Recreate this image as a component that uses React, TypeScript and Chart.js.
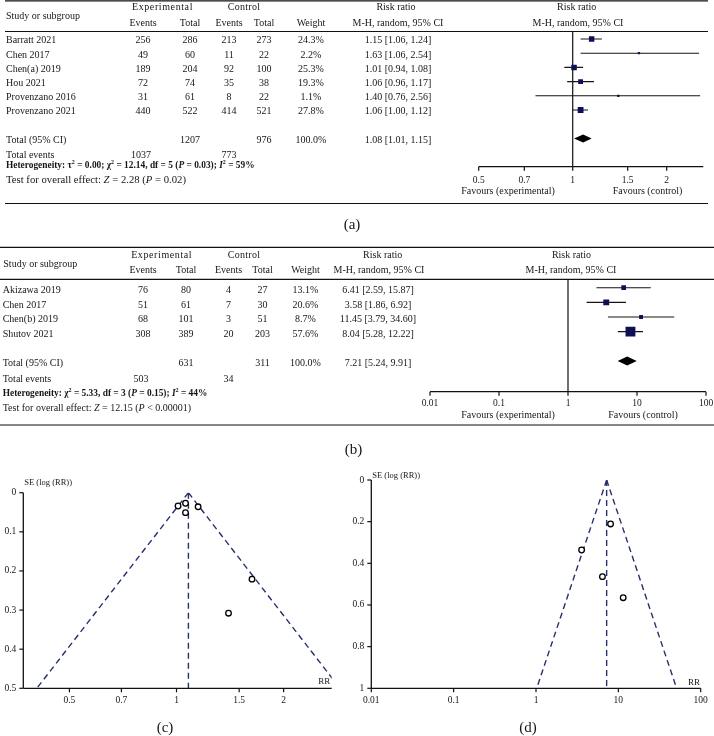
import React, { useEffect, useRef } from 'react';
import { Chart, registerables } from 'chart.js';

Chart.register(...registerables);

const SERIF = '"Liberation Serif", "Times New Roman", Times, serif';
const INK = '#161616';
const NAVY = '#0f0f55';
const DASH = '#27306f';

type Run = { t: string; b?: boolean; i?: boolean; sup?: boolean };

// ---------------- Panel (a) data ----------------
const studiesA = ['Barratt 2021', 'Chen 2017', 'Chen(a) 2019', 'Hou 2021', 'Provenzano 2016', 'Provenzano 2021'];
const expEventsA = [256, 49, 189, 72, 31, 440];
const expTotalA = [286, 60, 204, 74, 61, 522];
const ctrlEventsA = [213, 11, 92, 35, 8, 414];
const ctrlTotalA = [273, 22, 100, 38, 22, 521];
const weightA = [24.3, 2.2, 25.3, 19.3, 1.1, 27.8];
const rrA = [1.15, 1.63, 1.01, 1.06, 1.4, 1.06];
const lowA = [1.06, 1.06, 0.94, 0.96, 0.76, 1.0];
const highA = [1.24, 2.54, 1.08, 1.17, 2.56, 1.12];
const pooledA = [1.08, 1.01, 1.15]; // estimate, lower, upper
const sumsA = [1207, 976, 1037, 773]; // exp total, ctrl total, exp events, ctrl events
const forestTicksA = [0.5, 0.7, 1, 1.5, 2];
const hetA: Run[] = [
  { t: 'Heterogeneity: τ', b: true }, { t: '2', b: true, sup: true }, { t: ' = 0.00; χ', b: true },
  { t: '2', b: true, sup: true }, { t: ' = 12.14, df = 5 (', b: true }, { t: 'P', b: true, i: true },
  { t: ' = 0.03); ', b: true }, { t: 'I', b: true, i: true }, { t: '2', b: true, sup: true }, { t: ' = 59%', b: true },
];
const testA: Run[] = [
  { t: 'Test for overall effect: ' }, { t: 'Z', i: true }, { t: ' = 2.28 (' }, { t: 'P', i: true }, { t: ' = 0.02)' },
];

// ---------------- Panel (b) data ----------------
const studiesB = ['Akizawa 2019', 'Chen 2017', 'Chen(b) 2019', 'Shutov 2021'];
const expEventsB = [76, 51, 68, 308];
const expTotalB = [80, 61, 101, 389];
const ctrlEventsB = [4, 7, 3, 20];
const ctrlTotalB = [27, 30, 51, 203];
const weightB = [13.1, 20.6, 8.7, 57.6];
const rrB = [6.41, 3.58, 11.45, 8.04];
const lowB = [2.59, 1.86, 3.79, 5.28];
const highB = [15.87, 6.92, 34.6, 12.22];
const pooledB = [7.21, 5.24, 9.91];
const sumsB = [631, 311, 503, 34];
const forestTicksB = [0.01, 0.1, 1, 10, 100];
const hetB: Run[] = [
  { t: 'Heterogeneity: χ', b: true }, { t: '2', b: true, sup: true }, { t: ' = 5.33, df = 3 (', b: true },
  { t: 'P', b: true, i: true }, { t: ' = 0.15); ', b: true }, { t: 'I', b: true, i: true },
  { t: '2', b: true, sup: true }, { t: ' = 44%', b: true },
];
const testB: Run[] = [
  { t: 'Test for overall effect: ' }, { t: 'Z', i: true }, { t: ' = 12.15 (' }, { t: 'P', i: true }, { t: ' < 0.00001)' },
];

// ---------------- Funnel (c) data ----------------
const funnelRrC = [1.15, 1.63, 1.01, 1.06, 1.4, 1.06];
const funnelSeC = [0.036, 0.221, 0.034, 0.051, 0.308, 0.027];
const limitSeC = [0, 0.5];
const limitLowC = [1.08, 0.405];
const limitHighC = [1.08, 2.88];
const pooledC = 1.08;
const xTicksC = [0.5, 0.7, 1, 1.5, 2];
const yTicksC = [0, 0.1, 0.2, 0.3, 0.4, 0.5];

// ---------------- Funnel (d) data ----------------
const funnelRrD = [6.41, 3.58, 11.45, 8.04];
const funnelSeD = [0.464, 0.336, 0.565, 0.211];
const limitSeD = [0, 1];
const limitLowD = [7.21, 1.02];
const limitHighD = [7.21, 51];
const pooledD = 7.21;
const xTicksD = [0.01, 0.1, 1, 10, 100];
const yTicksD = [0, 0.2, 0.4, 0.6, 0.8, 1];

// ---------------- helpers ----------------
function fnt(size: number, bold = false, italic = false) {
  return `${italic ? 'italic ' : ''}${bold ? 'bold ' : ''}${size}px ${SERIF}`;
}
function txt(ctx: any, s: string, x: number, y: number, align = 'center', size = 10, bold = false, spacing = 0) {
  ctx.font = fnt(size, bold);
  ctx.textAlign = align;
  ctx.textBaseline = 'middle';
  ctx.fillStyle = INK;
  if ('letterSpacing' in ctx) ctx.letterSpacing = `${spacing}px`;
  ctx.fillText(s, x, y);
  if ('letterSpacing' in ctx) ctx.letterSpacing = '0px';
}
function drawRuns(ctx: any, x: number, y: number, runs: Run[], size = 10) {
  let cx = x;
  ctx.textAlign = 'left';
  ctx.textBaseline = 'middle';
  ctx.fillStyle = INK;
  for (const r of runs) {
    const s = r.sup ? Math.round(size * 0.65) : size;
    ctx.font = fnt(s, !!r.b, !!r.i);
    ctx.fillText(r.t, cx, r.sup ? y - size * 0.36 : y);
    cx += ctx.measureText(r.t).width;
  }
}
function seg(ctx: any, x0: number, y0: number, x1: number, y1: number, w = 1, color = INK) {
  ctx.save();
  ctx.strokeStyle = color;
  ctx.lineWidth = w;
  ctx.beginPath();
  ctx.moveTo(x0, y0);
  ctx.lineTo(x1, y1);
  ctx.stroke();
  ctx.restore();
}

// ---------------- forest plot ----------------
function makeForest(canvas: HTMLCanvasElement, c: any) {
  const yMin = -(c.row0 - c.area.top) / c.rowPx;
  const yMax = (c.area.bottom - c.row0) / c.rowPx;
  const ciSets = c.rr.map((_: number, i: number) => ({
    data: [{ x: c.lo[i], y: i }, { x: c.hi[i], y: i }],
    showLine: true,
    borderColor: '#151515',
    borderWidth: 1.1,
    pointRadius: 0,
    pointHoverRadius: 0,
  }));
  const squares = {
    data: c.rr.map((v: number, i: number) => ({ x: v, y: i })),
    pointStyle: 'rect',
    pointRadius: (ctx: any) => Math.max(c.minSide, c.sizeK * Math.sqrt(c.weight[ctx.dataIndex])) / Math.SQRT2,
    backgroundColor: NAVY,
    borderColor: NAVY,
    borderWidth: 0,
  };
  const plugin = {
    id: 'forestTable',
    beforeDatasetsDraw(chart: any) {
      const { ctx, chartArea: a, scales } = chart;
      const x1 = scales.x.getPixelForValue(1);
      seg(ctx, x1, a.top, x1, a.bottom, 1.3, '#222');
    },
    afterDraw(chart: any) {
      const { ctx, chartArea: a, scales } = chart;
      const xs = scales.x;
      const ys = scales.y;
      const col = c.cols;
      const h = c.head;
      ctx.save();
      c.rules.ys.forEach((y: number) => seg(ctx, c.rules.x0, y, c.rules.x1, y, 1.2, '#111'));
      // header
      txt(ctx, 'Study or subgroup', h.studyX, h.studyY, 'left');
      txt(ctx, 'Experimental', h.expX, h.y1, 'center', 10, false, 0.6);
      txt(ctx, 'Control', h.ctrlX, h.y1, 'center', 10, false, 0.3);
      txt(ctx, 'Events', col.expE, h.y2);
      txt(ctx, 'Total', col.expT, h.y2);
      txt(ctx, 'Events', col.ctrlE, h.y2);
      txt(ctx, 'Total', col.ctrlT, h.y2);
      txt(ctx, 'Weight', col.weight, h.y2);
      txt(ctx, 'Risk ratio', h.rrL1, h.y1);
      txt(ctx, 'M-H, random, 95% CI', h.rrL2, h.y2);
      txt(ctx, 'Risk ratio', h.rrR1, h.y1);
      txt(ctx, 'M-H, random, 95% CI', h.rrR2, h.y2);
      // study rows
      c.studies.forEach((s: string, i: number) => {
        const y = ys.getPixelForValue(i) + c.textDy;
        txt(ctx, s, col.name, y, 'left');
        txt(ctx, String(c.expE[i]), col.expE, y);
        txt(ctx, String(c.expT[i]), col.expT, y);
        txt(ctx, String(c.ctrlE[i]), col.ctrlE, y);
        txt(ctx, String(c.ctrlT[i]), col.ctrlT, y);
        txt(ctx, `${c.weight[i].toFixed(1)}%`, col.weight, y);
        txt(ctx, `${c.rr[i].toFixed(2)} [${c.lo[i].toFixed(2)}, ${c.hi[i].toFixed(2)}]`, col.rrText, y);
      });
      // total row
      const ty = ys.getPixelForValue(c.diamondRow);
      txt(ctx, 'Total (95% CI)', col.name, ty + c.textDy, 'left');
      txt(ctx, String(c.sums[0]), col.expT, ty + c.textDy);
      txt(ctx, String(c.sums[1]), col.ctrlT, ty + c.textDy);
      txt(ctx, '100.0%', col.weight, ty + c.textDy);
      txt(ctx, `${c.pooled[0].toFixed(2)} [${c.pooled[1].toFixed(2)}, ${c.pooled[2].toFixed(2)}]`, col.rrText, ty + c.textDy);
      const xl = xs.getPixelForValue(c.pooled[1]);
      const xm = xs.getPixelForValue(c.pooled[0]);
      const xr = xs.getPixelForValue(c.pooled[2]);
      ctx.beginPath();
      ctx.moveTo(xl, ty);
      ctx.lineTo(xm, ty - c.diamondH);
      ctx.lineTo(xr, ty);
      ctx.lineTo(xm, ty + c.diamondH);
      ctx.closePath();
      ctx.fillStyle = '#000';
      ctx.fill();
      // totals / stats
      txt(ctx, 'Total events', col.name, c.eventsY, 'left');
      txt(ctx, String(c.sums[2]), col.expE - 2, c.eventsY);
      txt(ctx, String(c.sums[3]), col.ctrlE, c.eventsY);
      drawRuns(ctx, col.name, c.hetY, c.het, c.hetSize);
      drawRuns(ctx, col.name, c.testY, c.test, c.testSize);
      // axis
      seg(ctx, a.left, a.bottom, a.right, a.bottom, 1.3, '#111');
      c.ticks.forEach((t: number) => {
        const px = xs.getPixelForValue(t);
        seg(ctx, px, a.bottom, px, a.bottom + 4, 1.2, '#111');
        txt(ctx, String(t), px, c.tickY, 'center', 9.5);
      });
      txt(ctx, 'Favours (experimental)', c.favExpX, c.favY);
      txt(ctx, 'Favours (control)', c.favCtrlX, c.favY);
      txt(ctx, c.label, c.labelX, c.labelY, 'center', 15);
      ctx.restore();
    },
  };
  return new Chart(canvas, {
    type: 'scatter',
    data: { datasets: [squares, ...ciSets] as any },
    options: {
      animation: false,
      responsive: false,
      maintainAspectRatio: false,
      events: [],
      layout: {
        padding: { left: c.area.left, top: c.area.top, right: c.width - c.area.right, bottom: c.height - c.area.bottom },
      },
      plugins: { legend: { display: false }, tooltip: { enabled: false } },
      scales: {
        x: { type: 'logarithmic', min: c.xMin, max: c.xMax, display: false },
        y: { type: 'linear', min: yMin, max: yMax, reverse: true, display: false },
      },
    } as any,
    plugins: [plugin],
  });
}

// ---------------- funnel plot ----------------
function makeFunnel(canvas: HTMLCanvasElement, c: any) {
  const dashed = {
    showLine: true,
    pointRadius: 0,
    pointHoverRadius: 0,
    borderColor: DASH,
    borderWidth: 1.4,
    borderDash: [6, 4],
  };
  const plugin = {
    id: 'funnelAxes',
    afterDraw(chart: any) {
      const { ctx, chartArea: a, scales } = chart;
      ctx.save();
      seg(ctx, a.left, a.top, a.left, a.bottom, 1.3, '#111');
      seg(ctx, a.left, a.bottom, a.right, a.bottom, 1.3, '#111');
      c.yTicks.forEach((t: number) => {
        const py = scales.y.getPixelForValue(t);
        seg(ctx, a.left - 4, py, a.left, py, 1.2, '#111');
        txt(ctx, String(t), a.left - 7, py, 'right', 9.5);
      });
      c.xTicks.forEach((t: number) => {
        const px = scales.x.getPixelForValue(t);
        seg(ctx, px, a.bottom, px, a.bottom + 4, 1.2, '#111');
        txt(ctx, String(t), px, c.xLabelY, 'center', 9.5);
      });
      txt(ctx, 'SE (log (RR))', c.titleX, c.titleY, 'left', 8.5);
      txt(ctx, 'RR', c.rrX, c.rrY, 'center', 9);
      txt(ctx, c.label, c.labelX, c.labelY, 'center', 15);
      ctx.restore();
    },
  };
  return new Chart(canvas, {
    type: 'scatter',
    data: {
      datasets: [
        {
          data: c.rr.map((v: number, i: number) => ({ x: v, y: c.se[i] })),
          pointStyle: 'circle',
          pointRadius: 2.8,
          borderWidth: 1.3,
          borderColor: '#000',
          backgroundColor: '#fff',
        },
        { ...dashed, data: c.lowX.map((v: number, i: number) => ({ x: v, y: c.limitSe[i] })) },
        { ...dashed, data: c.highX.map((v: number, i: number) => ({ x: v, y: c.limitSe[i] })) },
        { ...dashed, data: c.limitSe.map((s: number) => ({ x: c.pooled, y: s })) },
      ] as any,
    },
    options: {
      animation: false,
      responsive: false,
      maintainAspectRatio: false,
      events: [],
      layout: {
        padding: { left: c.area.left, top: c.area.top, right: c.width - c.area.right, bottom: c.height - c.area.bottom },
      },
      plugins: { legend: { display: false }, tooltip: { enabled: false } },
      scales: {
        x: { type: 'logarithmic', min: c.xMin, max: c.xMax, display: false },
        y: { type: 'linear', min: 0, max: c.yMax, reverse: true, display: false },
      },
    } as any,
    plugins: [plugin],
  });
}

// ---------------- layout configs ----------------
const cfgA = {
  studies: studiesA, expE: expEventsA, expT: expTotalA, ctrlE: ctrlEventsA, ctrlT: ctrlTotalA,
  weight: weightA, rr: rrA, lo: lowA, hi: highA, pooled: pooledA, sums: sumsA, ticks: forestTicksA,
  het: hetA, test: testA, hetSize: 9.4, testSize: 10.7, xMin: 0.5, xMax: 2.62,
  width: 714, height: 245,
  area: { left: 478.7, right: 703.3, top: 31.5, bottom: 166.7 },
  row0: 39, rowPx: 14.2, diamondRow: 7, textDy: 1.8, diamondH: 4, sizeK: 1.1, minSide: 2.3,
  cols: { name: 6, expE: 143, expT: 190, ctrlE: 229, ctrlT: 264, weight: 311, rrText: 398 },
  head: { y1: 7, y2: 23, studyX: 6, studyY: 16, expX: 162.5, ctrlX: 244, rrL1: 396, rrL2: 398, rrR1: 576.7, rrR2: 578 },
  rules: { x0: 5, x1: 708, ys: [0.8, 31.5, 203.5] },
  eventsY: 155.7, hetY: 166, testY: 180.5, tickY: 180, favY: 191.7, favExpX: 508, favCtrlX: 647.5,
  label: '(a)', labelX: 352, labelY: 225,
};

const cfgB = {
  studies: studiesB, expE: expEventsB, expT: expTotalB, ctrlE: ctrlEventsB, ctrlT: ctrlTotalB,
  weight: weightB, rr: rrB, lo: lowB, hi: highB, pooled: pooledB, sums: sumsB, ticks: forestTicksB,
  het: hetB, test: testB, hetSize: 9.4, testSize: 10, xMin: 0.01, xMax: 100,
  width: 714, height: 225,
  area: { left: 430, right: 706, top: 34.3, bottom: 146.7 },
  row0: 42.7, rowPx: 14.65, diamondRow: 5, textDy: 2.6, diamondH: 4.5, sizeK: 1.3, minSide: 3,
  cols: { name: 2.7, expE: 143, expT: 186, ctrlE: 228.5, ctrlT: 262.5, weight: 305.5, rrText: 378 },
  head: { y1: 10.7, y2: 25, studyX: 3.3, studyY: 19, expX: 161.7, ctrlX: 244, rrL1: 382.7, rrL2: 379, rrR1: 571.5, rrR2: 571 },
  rules: { x0: 0, x1: 714, ys: [2.3, 34.3, 180] },
  eventsY: 134, hetY: 149, testY: 163, tickY: 158, favY: 170, favExpX: 508, favCtrlX: 643,
  label: '(b)', labelX: 353.5, labelY: 205,
};

const cfgC = {
  rr: funnelRrC, se: funnelSeC, lowX: limitLowC, highX: limitHighC, limitSe: limitSeC, pooled: pooledC,
  xTicks: xTicksC, yTicks: yTicksC, xMin: 0.371, xMax: 2.73, yMax: 0.5,
  width: 340, height: 266,
  area: { left: 23.3, right: 331.7, top: 22.7, bottom: 218.3 },
  xLabelY: 230.7, titleX: 24.3, titleY: 13, rrX: 324.3, rrY: 211.7,
  label: '(c)', labelX: 165, labelY: 258,
};

const cfgD = {
  rr: funnelRrD, se: funnelSeD, lowX: limitLowD, highX: limitHighD, limitSe: limitSeD, pooled: pooledD,
  xTicks: xTicksD, yTicks: yTicksD, xMin: 0.01, xMax: 100, yMax: 1,
  width: 374, height: 266,
  area: { left: 31.3, right: 360.7, top: 10, bottom: 218.3 },
  xLabelY: 230, titleX: 32.3, titleY: 5.5, rrX: 354, rrY: 212.7,
  label: '(d)', labelX: 188, labelY: 258,
};

export default function App() {
  const refA = useRef<HTMLCanvasElement>(null);
  const refB = useRef<HTMLCanvasElement>(null);
  const refC = useRef<HTMLCanvasElement>(null);
  const refD = useRef<HTMLCanvasElement>(null);

  useEffect(() => {
    const charts = [
      makeForest(refA.current!, cfgA),
      makeForest(refB.current!, cfgB),
      makeFunnel(refC.current!, cfgC),
      makeFunnel(refD.current!, cfgD),
    ];
    return () => charts.forEach((ch) => ch.destroy());
  }, []);

  const abs = (left: number, top: number, w: number, h: number): React.CSSProperties => ({
    position: 'absolute', left, top, width: w, height: h,
  });

  return (
    <div style={{ position: 'absolute', left: 0, top: 0, width: 714, height: 736, background: '#fff', overflow: 'hidden' }}>
      <canvas ref={refA} width={714} height={245} style={abs(0, 0, 714, 245)} />
      <canvas ref={refB} width={714} height={225} style={abs(0, 245, 714, 225)} />
      <canvas ref={refC} width={340} height={266} style={abs(0, 470, 340, 266)} />
      <canvas ref={refD} width={374} height={266} style={abs(340, 470, 374, 266)} />
    </div>
  );
}
